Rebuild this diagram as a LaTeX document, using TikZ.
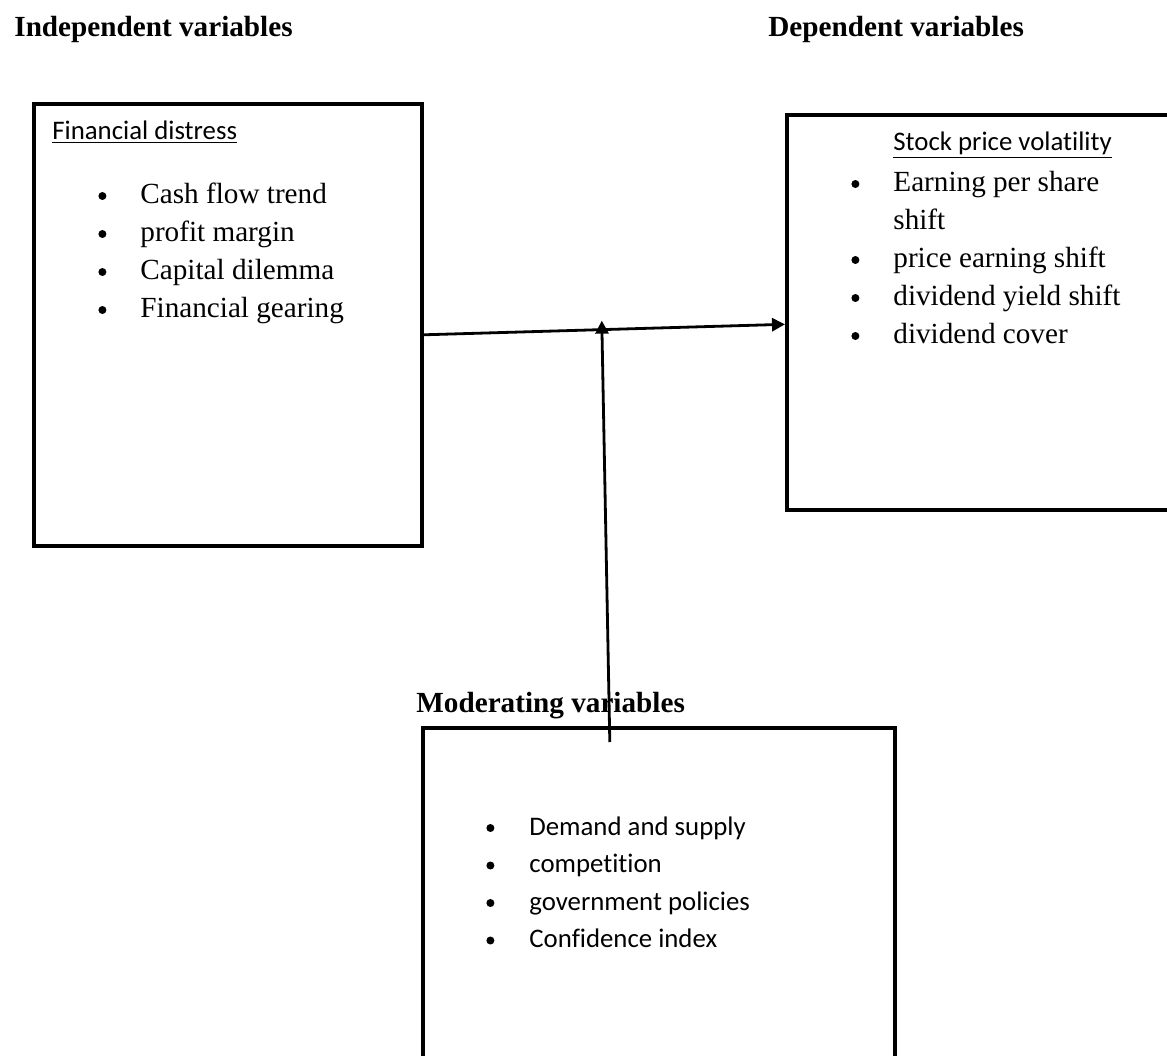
\documentclass[tikz,border=0pt]{standalone}
\usepackage{fontspec}
\setmainfont{Liberation Serif}
\newfontfamily\calibri[Ligatures=NoCommon]{Carlito}
\usetikzlibrary{positioning,arrows.meta}

\newcommand{\bul}{\tikz[baseline=-3.5pt]\fill (0,0) circle (2pt);}

\begin{document}
\begin{tikzpicture}[
        x=0.5pt, y=-0.5pt,
        box/.style={rectangle, draw, line width=1.8pt, inner sep=0pt, anchor=north west},
        heading/.style={anchor=base west, inner sep=0pt, font=\fontsize{14.6}{19}\selectfont\bfseries},
        title/.style={anchor=base west, inner sep=0pt, font=\fontsize{13.4}{18}\selectfont\calibri},
        items/.style={anchor=base west, inner sep=0pt, align=left, font=\fontsize{14.6}{19}\selectfont},
        sansitems/.style={items, font=\fontsize{13.4}{18.75}\selectfont\calibri},
        arrow/.style={-{Triangle[length=6.5pt, width=6.5pt]}, line width=1.4pt}
    ]
    \clip (0,0) rectangle (1167,1055);

    % Boxes
    \node[box, minimum width=194pt, minimum height=221pt] (distress) at (32,102) {};
    \node[box, minimum width=215pt, minimum height=197.5pt] (volatility) at (785,113) {};
    \node[box, minimum width=236pt, minimum height=190pt] (moderators) at (421,726) {};

    % Headings
    \node[heading] (indep) at (14,36) {Independent variables};
    \node[heading] (dep) at (768,36) {Dependent variables};
    \node[heading] (moder) at ([xshift=-2.5pt, yshift=7pt]moderators.north west) {Moderating variables};

    % Box contents
    \node[title] (distresslbl) at ([xshift=10pt, yshift=-18.5pt]distress.north west) {\underline{Financial distress}};
    \node[items] (distresslist) at ([xshift=33pt, yshift=-50.5pt]distress.north west) {%
        \begin{tabular}[t]{@{}p{21pt}@{}l@{}}
        \bul & Cash flow trend\\
        \bul & profit margin\\
        \bul & Capital dilemma\\
        \bul & Financial gearing
        \end{tabular}};

    \node[title] (volatilitylbl) at ([xshift=54pt, yshift=-18.5pt]volatility.north west) {\underline{Stock price volatility}};
    \node[items] (volatilitylist) at ([xshift=33pt, yshift=-39pt]volatility.north west) {%
        \begin{tabular}[t]{@{}p{21pt}@{}l@{}}
        \bul & Earning per share\\
             & shift\\
        \bul & price earning shift\\
        \bul & dividend yield shift\\
        \bul & dividend cover
        \end{tabular}};

    \node[sansitems] (moderatorlist) at ([xshift=32.5pt, yshift=-54.5pt]moderators.north west) {%
        \begin{tabular}[t]{@{}p{21.5pt}@{}l@{}}
        \bul & Demand and supply\\
        \bul & competition\\
        \bul & government policies\\
        \bul & Confidence index
        \end{tabular}};

    % Arrows
    \draw[arrow] ([yshift=-5pt]distress.east) -- coordinate[pos=0.493] (junction) ([yshift=-6pt]volatility.west);
    \draw[arrow] ([xshift=-24.5pt, yshift=-8pt]moderators.north) -- ([yshift=4.5pt]junction);

\end{tikzpicture}
\end{document}
